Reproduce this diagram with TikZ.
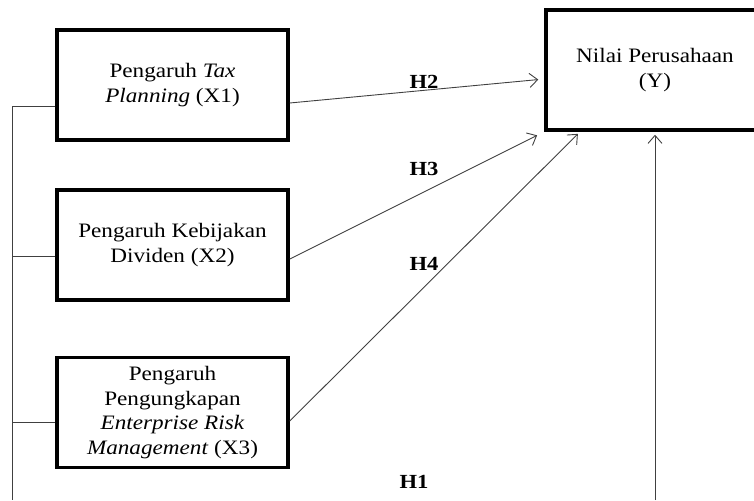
\documentclass[tikz,border=0pt]{standalone}
\usepackage{fontspec}
\setmainfont{Liberation Serif}[FakeStretch=1.13]
\usetikzlibrary{arrows.meta,calc,positioning}

\begin{document}
\begin{tikzpicture}[x=1pt, y=-1pt,
  box/.style={draw, line width=3.5pt, align=center, minimum width=231pt, minimum height=110pt, font=\fontsize{20.5}{24.5}\selectfont},
  link/.style={draw=black!75, line width=0.9pt},
  hyp/.style={-{Straight Barb[length=8pt,width=14pt]}, draw=black!75, line width=0.9pt},
  hlab/.style={font=\fontsize{20}{22}\selectfont\bfseries}]
  \useasboundingbox (0,0) rectangle (754,500);
  \clip (0,0) rectangle (754,500);
  % variables
  \node[box] (x1) at (172.5,85) {Pengaruh \textit{Tax}\\\textit{Planning} (X1)};
  \node[box] (x2) at (172.5,245) {Pengaruh Kebijakan\\Dividen (X2)};
  \node[box] (x3) at (172.5,412.5) {Pengaruh\\Pengungkapan\\\textit{Enterprise Risk}\\\textit{Management} (X3)};
  \node[box, minimum width=218pt, minimum height=120pt] (y) at (655,70) {Nilai Perusahaan\\(Y)};
  % bus on the left
  \coordinate (busend) at (12,500);
  \coordinate (b1) at ($(x1.west)+(0,21)$);
  \coordinate (b2) at ($(x2.west)+(0,11)$);
  \coordinate (b3) at ($(x3.west)+(0,9.5)$);
  \draw[link] (b1) -| (busend);
  \foreach \b in {b2,b3}{
    \draw[link] (\b) -- (\b -| busend);
  }
  % hypotheses
  \draw[hyp, shorten >=6pt] ($(x1.east)+(0,18)$) -- ($(y.west)+(0,9)$);
  \draw[hyp, shorten >=8pt] ($(x2.east)+(0,14)$) -- (y.south west);
  \draw[hyp, shorten >=3pt] ($(x3.east)+(0,8.5)$) -- ($(y.south)+(-75,0)$);
  \draw[hyp, shorten >=3pt] (y.south |- busend) -- (y.south);
  \foreach \h/\p in {h1/{(414,482)},h2/{(424,82)},h3/{(424,169)},h4/{(424,264)}}{
    \node[hlab] (\h) at \p {\MakeUppercase{\h}};
  }
\end{tikzpicture}
\end{document}
